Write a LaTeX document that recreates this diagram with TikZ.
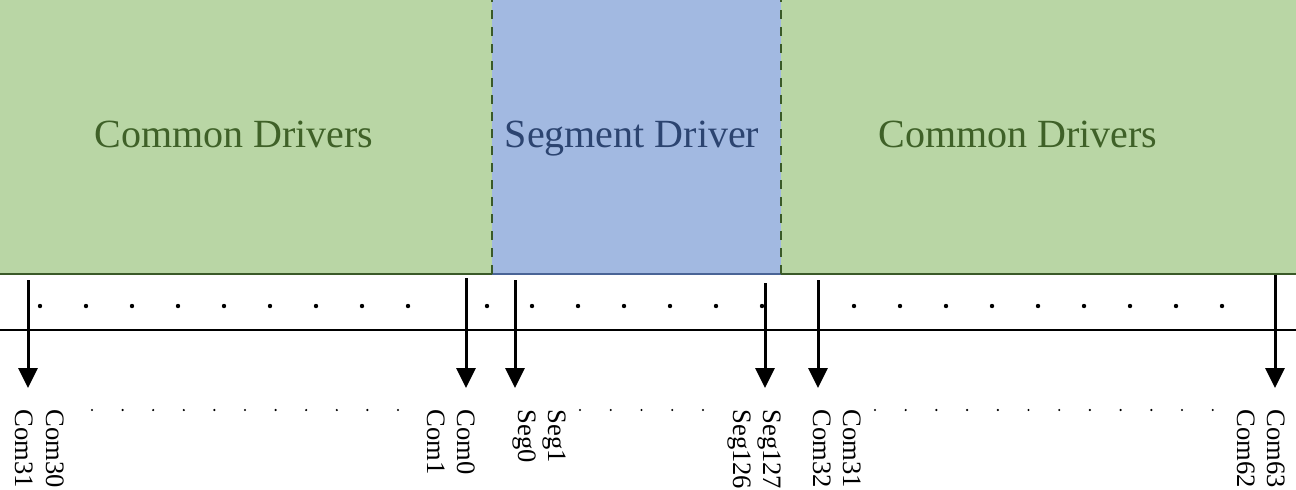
\documentclass[tikz,border=0pt]{standalone}
\usepackage{fontspec}
\setmainfont{Liberation Serif}
\usetikzlibrary{arrows.meta}
\definecolor{gfill}{HTML}{B9D6A5}
\definecolor{gline}{HTML}{3A5A28}
\definecolor{gtext}{HTML}{3F6128}
\definecolor{bfill}{HTML}{A2B9E1}
\definecolor{bline}{HTML}{4A6496}
\definecolor{btext}{HTML}{2C4470}
\tikzset{
  box/.style={anchor=north west, inner sep=0, outer sep=0, draw=none},
  title/.style={font=\fontsize{20}{24}\selectfont, anchor=base},
  sig/.style={-{Triangle[length=10pt,width=9.5pt]}, line width=1.5pt},
  lab/.style={rotate=-90, anchor=base west, inner sep=0, font=\fontsize{13.3}{15}\selectfont},
  sep/.style={gline, line width=1.3pt, dash pattern=on 4.5pt off 4pt},
}
\begin{document}
\begin{tikzpicture}[x=0.5pt,y=-0.5pt]
\useasboundingbox (0,0) rectangle (1296,489);
% boxes
\node[box, fill=gfill, minimum width=246pt, minimum height=137pt] (cl) at (0,0) {};
\node[box, fill=bfill, minimum width=144.5pt, minimum height=137pt] (sd) at (492,0) {};
\node[box, fill=gfill, minimum width=257.5pt, minimum height=137pt] (cr) at (781,0) {};
\draw[gline, line width=1.2pt] (cl.south west) -- (cl.south east);
\draw[bline, line width=1.2pt] (sd.south west) -- (sd.south east);
\draw[gline, line width=1.2pt] (cr.south west) -- (cr.south east);
\draw[sep] (sd.south west) -- (sd.north west);
\draw[sep] (sd.south east) -- (sd.north east);
% titles
\node[title, text=gtext] (tl) at (234,147) {Common Drivers};
\node[title, text=btext] (ts) at (632,147) {Segment Driver};
\node[title, text=gtext] (tr) at (1018,147) {Common Drivers};
% bus line
\coordinate (busl) at (0,330);
\coordinate (busr) at (1296,330);
\draw[line width=1.3pt] (busl) -- (busr);
% arrows
\foreach \n/\x/\t in {a/28/280, b/466/278, c/515/280, d/765/283, e/818/280, f/1275/275}{
  \coordinate (\n t) at (\x,\t);
  \coordinate (\n b) at (\x,388);
  \draw[sig] (\n t) -- (\n b);
}
% upper dots
\foreach \i in {0,...,8}{\fill (40+46*\i,306) circle[radius=1.1pt];}
\fill (487,306) circle[radius=1.1pt];
\foreach \i in {0,...,5}{\fill (532+46*\i,306) circle[radius=1.1pt];}
\foreach \i in {0,...,8}{\fill (854+46*\i,306) circle[radius=1.1pt];}
% lower dots
\foreach \i in {0,...,10}{\fill (92+30.6*\i,410) circle[radius=0.6pt];}
\foreach \i in {0,...,4}{\fill (580+30.75*\i,410) circle[radius=0.6pt];}
\foreach \i in {0,...,11}{\fill (875+30.7*\i,410) circle[radius=0.6pt];}
% labels
\node[lab] (l31) at (15,409) {Com31};
\node[lab] (l30) at (47,409) {Com30};
\node[lab] (l1) at (427,409) {Com1};
\node[lab] (l0) at (457,409) {Com0};
\node[lab] (s0) at (518,409) {Seg0};
\node[lab] (s1) at (548,409) {Seg1};
\node[lab] (s126) at (733,409) {Seg126};
\node[lab] (s127) at (763,409) {Seg127};
\node[lab] (l32) at (813,409) {Com32};
\node[lab] (l31b) at (843,409) {Com31};
\node[lab] (l62) at (1237,409) {Com62};
\node[lab] (l63) at (1267,409) {Com63};
\end{tikzpicture}
\end{document}
